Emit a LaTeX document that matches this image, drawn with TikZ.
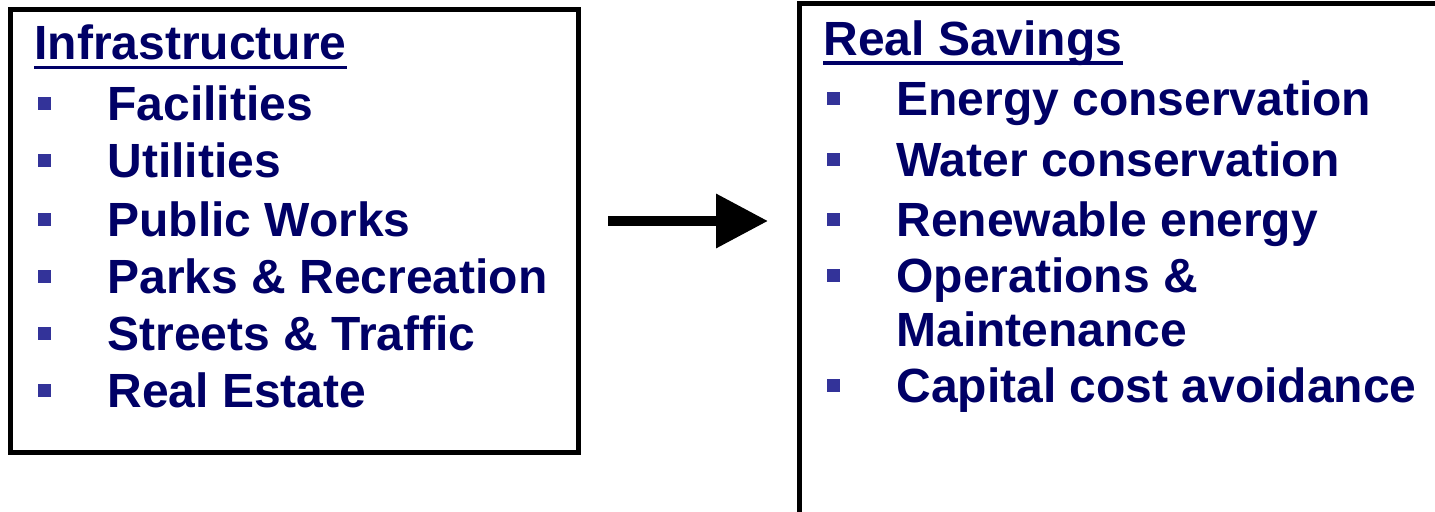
\documentclass[tikz,border=0pt]{standalone}
\usepackage{fontspec}
\setmainfont{Liberation Sans}
\usetikzlibrary{arrows.meta}
\definecolor{txt}{RGB}{0,0,102}
\definecolor{bul}{RGB}{51,51,153}
\begin{document}
\begin{tikzpicture}[x=0.5pt,y=-0.5pt,
  item/.style={anchor=base west, inner sep=0pt, text=txt, font=\fontsize{24}{28}\selectfont\bfseries},
  bulletbox/.style={fill=bul, minimum size=6.5pt, inner sep=0pt},
  frame/.style={draw=black, line width=2.5pt},
  uline/.style={draw=txt, line width=1.7pt}]
\useasboundingbox (0,0) rectangle (1435,512);
\begin{scope}
\clip (0,0) rectangle (1435,512);
% left box
\node[frame, minimum width=283.75pt, minimum height=221.5pt, inner sep=0pt] (leftbox) at (294.25,231.5) {};
% right box (open on right and bottom)
\coordinate (rtr) at (1445,3.5);
\coordinate (rtl) at (799.5,3.5);
\coordinate (rbl) at (799.5,520);
\draw[frame] (rtr) -- (rtl) -- (rbl);
% left texts
\node[item] (ltitle) at (34,60) {Infrastructure};
\draw[uline] ([yshift=-3.8pt]ltitle.base west) -- ([yshift=-3.8pt]ltitle.base east);
\foreach \y/\t [count=\i] in {121/Facilities,178/Utilities,237/Public Works,294/Parks \& Recreation,351/Streets \& Traffic,408/Real Estate}{
  \node[bulletbox] (lb\i) at (44,\y-17.5) {};
  \node[item] (lt\i) at (107,\y) {\t};
}
% right texts
\node[item] (rtitle) at (823,56) {Real Savings};
\draw[uline] ([yshift=-3.5pt]rtitle.base west) -- ([yshift=-3.5pt]rtitle.base east);
\foreach \y/\t [count=\i] in {116/Energy conservation,177/Water conservation,237/Renewable energy,293/Operations \&,403/Capital cost avoidance}{
  \node[bulletbox] (rb\i) at (833,\y-17.5) {};
  \node[item] (rt\i) at (896,\y) {\t};
}
\node[item] (rt4b) at (896,347) {Maintenance};
% arrow
\coordinate (a1) at (608,221);
\coordinate (a2) at (768,221);
\draw[line width=5pt, -{Triangle[length=26pt,width=26pt]}] (a1) -- (a2);
\end{scope}
\end{tikzpicture}
\end{document}
